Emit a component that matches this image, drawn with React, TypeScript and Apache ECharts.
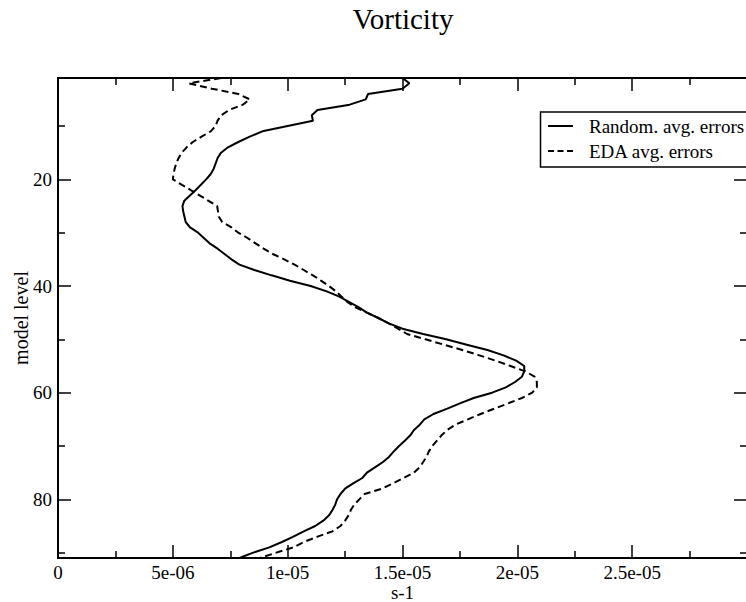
import React, { useEffect, useRef } from 'react';
import * as echarts from 'echarts';

// Vertical profiles of vorticity errors, values in units of 1e-6 s-1
const randomLevels = [
  1, 2, 3, 4, 5, 6, 7, 8, 9, 10, 11, 12, 13, 14, 15, 16, 18, 19, 20, 22, 24, 25, 26, 28, 29, 30,
  31, 32, 33, 34, 35, 36, 37, 38, 39, 40, 41, 42, 44, 45, 46, 47, 48, 49, 50, 51, 52, 53, 54, 55,
  56, 57, 58, 59, 60, 61, 62, 63, 64, 65, 66, 67, 68, 69, 70, 71, 72, 73, 74, 75, 76, 77, 78, 79,
  80, 81, 82, 83, 84, 85, 86, 87, 88, 89, 90, 91,
];
const randomValuesE6 = [
  15.0, 15.3, 15.0, 13.5, 13.4, 12.7, 11.3, 11.05, 11.1, 10.0, 8.9, 8.35, 7.85, 7.4, 7.1, 6.95, 6.78, 6.65, 6.45, 6.0, 5.5, 5.42, 5.45, 5.56, 5.75, 6.1,
  6.35, 6.6, 6.95, 7.25, 7.55, 7.9, 8.55, 9.3, 10.1, 11.0, 11.7, 12.25, 13.1, 13.45, 13.95, 14.4, 15.0, 15.9, 16.9, 17.8, 18.7, 19.4, 19.95, 20.3,
  20.3, 20.2, 19.9, 19.5, 18.9, 18.1, 17.5, 16.95, 16.35, 15.95, 15.75, 15.5, 15.34, 15.1, 14.85, 14.62, 14.42, 14.15, 13.8, 13.45, 13.25, 12.85, 12.5, 12.3,
  12.15, 12.07, 11.95, 11.8, 11.55, 11.2, 10.7, 10.25, 9.75, 9.2, 8.5, 7.9,
];

const edaLevels = [
  1, 2, 3, 4, 5, 6, 7, 8, 9, 10, 11, 12, 13, 14, 15, 16, 17, 18, 19, 20, 25, 27, 28, 29, 30,
  31, 32, 33, 34, 35, 36, 37, 38, 39, 40, 41, 42, 43, 44, 45, 46, 47, 48, 49, 50, 51, 52, 53, 54, 55,
  56, 57, 58, 59, 60, 61, 62, 63, 64, 65, 66, 67, 68, 69, 70, 71, 72, 73, 74, 75, 76, 77, 78, 79,
  80, 81, 82, 83, 84, 85, 86, 87, 88, 89, 90, 91,
];
const edaValuesE6 = [
  7.1, 5.7, 6.7, 7.85, 8.35, 8.05, 7.45, 7.1, 6.95, 6.86, 6.65, 6.25, 5.87, 5.6, 5.39, 5.25, 5.15, 5.08, 5.03, 5.0, 6.93, 7.0, 7.15, 7.55, 7.85,
  8.25, 8.6, 8.95, 9.35, 9.85, 10.3, 10.7, 11.1, 11.45, 11.8, 12.1, 12.35, 12.6, 12.95, 13.45, 13.95, 14.4, 14.8, 15.2, 16.0, 16.8, 17.6, 18.35, 19.05, 19.7,
  20.35, 20.75, 20.85, 20.85, 20.65, 20.2, 19.6, 19.0, 18.4, 17.85, 17.3, 16.95, 16.7, 16.5, 16.3, 16.15, 16.05, 15.9, 15.75, 15.5, 15.05, 14.6, 14.1, 13.35,
  13.12, 12.9, 12.75, 12.65, 12.5, 12.3, 11.95, 11.3, 10.7, 10.25, 9.5, 8.8,
];

const seriesNames = ['Random. avg. errors', 'EDA avg. errors'];
const majorLevelTicks = [20, 40, 60, 80];
const minorLevelTicks = [10, 30, 50, 70, 90];

const FONT = 'Liberation Serif';
const INK = '#000';

function sciLabel(v: number): string {
  if (Math.abs(v) < 1e-12) return '0';
  if (v > 2.9e-5) return '';
  const exp = Math.floor(Math.log10(v) + 1e-9);
  const mant = Math.round((v / Math.pow(10, exp)) * 100) / 100;
  const sign = exp < 0 ? '-' : '+';
  return `${mant}e${sign}${String(Math.abs(exp)).padStart(2, '0')}`;
}

function levelAxis(position: 'left' | 'right', ticks: number[], len: number, withLabels: boolean) {
  return {
    type: 'value',
    position,
    inverse: true,
    min: 1,
    max: 91,
    name: withLabels && position === 'left' ? 'model level' : '',
    nameLocation: 'middle',
    nameGap: 27,
    nameMoveOverlap: false,
    nameTextStyle: { fontFamily: FONT, fontSize: 20, color: INK },
    axisLine: { show: true, lineStyle: { color: INK, width: 2 } },
    axisTick: {
      show: true,
      inside: true,
      length: len,
      customValues: ticks,
      lineStyle: { color: INK, width: 1.5 },
    },
    axisLabel: {
      show: withLabels && position === 'left',
      customValues: ticks,
      margin: 6,
      fontFamily: FONT,
      fontSize: 19,
      color: INK,
    },
    splitLine: { show: false },
  };
}

function valueAxis(position: 'bottom' | 'top') {
  return {
    type: 'value',
    position,
    min: 0,
    max: 3e-5,
    interval: 5e-6,
    name: position === 'bottom' ? 's-1' : '',
    nameLocation: 'middle',
    nameGap: 26,
    nameMoveOverlap: false,
    nameTextStyle: { fontFamily: FONT, fontSize: 19, lineHeight: 17, color: INK },
    axisLine: { show: true, lineStyle: { color: INK, width: 2 } },
    axisTick: { show: true, inside: true, length: 13, lineStyle: { color: INK, width: 1.5 } },
    minorTick: { show: true, splitNumber: 2, length: 7, lineStyle: { color: INK, width: 1.5 } },
    axisLabel: {
      show: position === 'bottom',
      margin: 6,
      fontFamily: FONT,
      fontSize: 19,
      lineHeight: 17,
      color: INK,
      showMaxLabel: false,
      formatter: (v: number) => sciLabel(v),
    },
    splitLine: { show: false },
    minorSplitLine: { show: false },
  };
}

export default function App() {
  const ref = useRef<HTMLDivElement>(null);

  useEffect(() => {
    if (!ref.current) return;
    const chart = echarts.init(ref.current, undefined, { renderer: 'svg' });

    const randomData = randomLevels.map((lv, i) => [randomValuesE6[i] * 1e-6, lv]);
    const edaData = edaLevels.map((lv, i) => [edaValuesE6[i] * 1e-6, lv]);

    chart.setOption({
      animation: false,
      backgroundColor: '#fff',
      textStyle: { fontFamily: FONT },
      title: {
        text: 'Vorticity',
        left: 'center',
        top: 4,
        padding: 0,
        textStyle: { fontFamily: FONT, fontSize: 29, fontWeight: 'normal', color: INK },
      },
      grid: { left: 58, right: 59, top: 78, height: 480, containLabel: false, outerBoundsMode: 'none' },
      xAxis: [valueAxis('bottom'), valueAxis('top')],
      yAxis: [
        levelAxis('left', majorLevelTicks, 13, true),
        levelAxis('left', minorLevelTicks, 7, false),
        levelAxis('right', majorLevelTicks, 13, false),
        levelAxis('right', minorLevelTicks, 7, false),
      ],
      series: [
        {
          name: seriesNames[0],
          type: 'line',
          data: randomData,
          xAxisIndex: 0,
          yAxisIndex: 0,
          showSymbol: false,
          symbol: 'none',
          lineStyle: { color: INK, width: 2, type: 'solid' },
        },
        {
          name: seriesNames[1],
          type: 'line',
          data: edaData,
          xAxisIndex: 0,
          yAxisIndex: 0,
          showSymbol: false,
          symbol: 'none',
          lineStyle: { color: INK, width: 2, type: [7, 4] },
        },
      ],
      graphic: [
        {
          type: 'rect',
          shape: { x: 540.5, y: 112, width: 240, height: 55 },
          style: { fill: '#fff', stroke: INK, lineWidth: 1.5 },
          z: 10,
        },
        {
          type: 'line',
          shape: { x1: 548, y1: 126, x2: 573, y2: 126 },
          style: { stroke: INK, lineWidth: 2 },
          z: 11,
        },
        {
          type: 'line',
          shape: { x1: 548, y1: 151, x2: 573, y2: 151 },
          style: { stroke: INK, lineWidth: 2, lineDash: [6, 3.5] },
          z: 11,
        },
        {
          type: 'text',
          x: 589,
          y: 126,
          style: { text: seriesNames[0], font: `19px "${FONT}"`, fill: INK, textVerticalAlign: 'middle' },
          z: 11,
        },
        {
          type: 'text',
          x: 589,
          y: 151,
          style: { text: seriesNames[1], font: `19px "${FONT}"`, fill: INK, textVerticalAlign: 'middle' },
          z: 11,
        },
      ],
    });

    return () => chart.dispose();
  }, []);

  return (
    <div
      style={{
        position: 'fixed',
        left: 0,
        top: 0,
        width: 746,
        height: 602,
        overflow: 'hidden',
        background: '#fff',
      }}
    >
      <div ref={ref} style={{ width: 806, height: 602 }} />
    </div>
  );
}
